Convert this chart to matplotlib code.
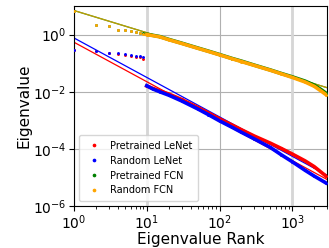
import numpy as np
import matplotlib
matplotlib.use("Agg")
import matplotlib.pyplot as plt

# eigenvalue spectra (log10 of eigenvalue)
lenet_ranks = [1, 2, 3, 4, 5, 6, 7, 8, 9, 10, 12, 15, 20, 30, 50, 70, 100, 150,
               200, 300, 500, 700, 1000, 1500, 2000, 2900]
pretrained_lenet = [-0.53, -0.58, -0.66, -0.67, -0.72, -0.75, -0.78, -0.80, -0.84,
                    -1.80, -1.88, -1.97, -2.08, -2.27, -2.55, -2.74, -2.95, -3.17,
                    -3.33, -3.55, -3.80, -3.98, -4.18, -4.42, -4.62, -4.95]
random_lenet = [-0.53, -0.56, -0.63, -0.63, -0.68, -0.71, -0.74, -0.76, -0.80,
                -1.79, -1.90, -2.00, -2.12, -2.32, -2.60, -2.80, -3.02, -3.25,
                -3.42, -3.65, -3.95, -4.20, -4.45, -4.75, -4.95, -5.19]

fcn_ranks = [1, 2, 3, 4, 5, 6, 7, 8, 9, 10, 15, 20, 30, 50, 70, 100, 150, 200,
             300, 500, 700, 1000, 1500, 2000, 2500, 2900]
pretrained_fcn = [0.82, 0.32, 0.29, 0.17, 0.16, 0.13, 0.09, 0.07, 0.04, 0.01,
                  -0.07, -0.17, -0.30, -0.47, -0.58, -0.70, -0.84, -0.93,
                  -1.07, -1.24, -1.36, -1.48, -1.63, -1.77, -1.93, -2.05]
random_fcn = [0.82, 0.32, 0.29, 0.16, 0.16, 0.13, 0.08, 0.06, 0.035, 0.0,
              -0.08, -0.18, -0.31, -0.48, -0.59, -0.71, -0.85, -0.945,
              -1.08, -1.25, -1.37, -1.50, -1.66, -1.81, -1.98, -2.10]

# power-law fits: log10(y) = intercept + slope * log10(rank)
fit_intercepts = [-0.27, -0.12, 0.84, 0.84]
fit_slopes = [-1.38, -1.38, -0.776, -0.776]

labels = ["Pretrained LeNet", "Random LeNet", "Pretrained FCN", "Random FCN"]
colors = ["red", "blue", "green", "orange"]
marked_ranks = [10, 1000]

series = [(lenet_ranks, pretrained_lenet), (lenet_ranks, random_lenet),
          (fcn_ranks, pretrained_fcn), (fcn_ranks, random_fcn)]

fig = plt.figure(figsize=(3.29, 2.48), dpi=100)
ax = fig.add_axes([0.225, 0.169, 0.769, 0.807])

x_fit = np.array([1, 3000])
for i, (ranks, vals) in enumerate(series):
    r = np.array(ranks)
    v = 10 ** np.array(vals)
    ax.plot(r, v, ".", color=colors[i], ms=2.2, label=labels[i], zorder=3)
    dense = r >= 10
    ax.plot(r[dense], v[dense], "-", color=colors[i], lw=2.6, zorder=3)

for i in range(4):
    y_fit = 10 ** (fit_intercepts[i] + fit_slopes[i] * np.log10(x_fit))
    ax.plot(x_fit, y_fit, "-", color=colors[i], lw=0.9,
            alpha=0.75 if i == 3 else 1.0, zorder=2.2)

ax.set_xscale("log")
ax.set_yscale("log")
ax.set_xlim(1, 3000)
ax.set_ylim(1e-6, 10)
ax.set_yticks([1e-6, 1e-4, 1e-2, 1])
ax.yaxis.set_minor_locator(matplotlib.ticker.NullLocator())
ax.grid(True, which="major", color="#b0b0b0", lw=0.8)
ax.set_axisbelow(True)

# lighter, wider markers at rank 10 and 1000, drawn over the grid
for r in marked_ranks:
    ax.axvline(r, color="#d6d6d6", lw=2, zorder=1.9)

ax.tick_params(labelsize=10, pad=2)
ax.set_xlabel("Eigenvalue Rank", fontsize=11, labelpad=0)
ax.set_ylabel("Eigenvalue", fontsize=11, labelpad=1)

ax.legend(loc="lower left", fontsize=7, markerscale=1.5, handletextpad=0.6,
          borderpad=0.6, labelspacing=0.5)

fig.savefig("out.png", dpi=100)
